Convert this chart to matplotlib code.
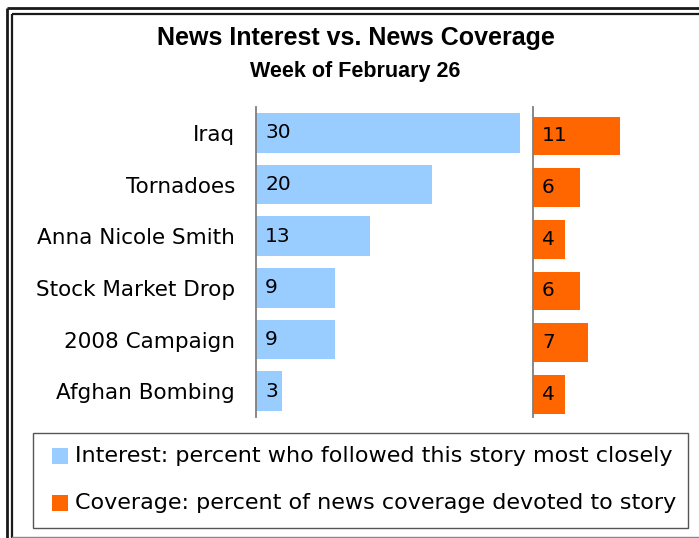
import matplotlib

matplotlib.use("Agg")
import matplotlib.pyplot as plt
from matplotlib.lines import Line2D
from matplotlib.patches import Rectangle

# data
stories = ["Iraq", "Tornadoes", "Anna Nicole Smith", "Stock Market Drop",
           "2008 Campaign", "Afghan Bombing"]
interest = [30, 20, 13, 9, 9, 3]
coverage = [11, 6, 4, 6, 7, 4]
legend_labels = ["Interest: percent who followed this story most closely",
                 "Coverage: percent of news coverage devoted to story"]
title = "News Interest vs. News Coverage"
subtitle = "Week of February 26"

BLUE = "#99CCFF"
ORANGE = "#FF6600"
W, H = 699, 538


def fx(x):
    return x / W


def fy(y):
    return 1 - y / H


fig = plt.figure(figsize=(W / 100, H / 100), dpi=100)
fig.patch.set_facecolor("white")

# frame (double line at top/left)
for x0, y0, lw, c in [(7, 8, 2.0, "#1a1a1a"), (12, 14, 1.6, "#1a1a1a")]:
    fig.add_artist(Line2D([fx(x0), fx(x0)], [fy(y0), 0], lw=lw, color=c,
                          transform=fig.transFigure, solid_capstyle="butt"))
    fig.add_artist(Line2D([fx(x0), 1], [fy(y0), fy(y0)], lw=lw, color=c,
                          transform=fig.transFigure, solid_capstyle="butt"))
fig.add_artist(Line2D([fx(12), 1], [fy(536.5), fy(536.5)], lw=1.0,
                      color="#888888", transform=fig.transFigure))

fig.text(fx(356), fy(38), title, ha="center", va="center",
         fontsize=18, fontweight="bold", family="Liberation Sans")
fig.text(fx(355), fy(72), subtitle, ha="center", va="center",
         fontsize=15.5, fontweight="bold", family="Liberation Sans")

ypos = list(range(len(stories)))
top, bottom = 107, 417
axL = fig.add_axes([fx(256), fy(bottom), (520 - 256) / W, (bottom - top) / H])
axR = fig.add_axes([fx(533), fy(bottom), (620 - 533) / W, (bottom - top) / H])

axL.barh(ypos, interest, height=0.77, color=BLUE)
axR.barh([y + 0.06 for y in ypos], coverage, height=0.75, color=ORANGE)
axL.set_xlim(0, 30)
axR.set_xlim(0, 11)

for ax, vals, off in [(axL, interest, 0.0), (axR, coverage, 0.06)]:
    ax.set_ylim(len(stories) - 0.5, -0.5)
    for s in ["top", "right", "bottom"]:
        ax.spines[s].set_visible(False)
    ax.spines["left"].set_color("#7f7f7f")
    ax.spines["left"].set_linewidth(1.3)
    ax.set_xticks([])
    ax.set_facecolor("none")
    for y, v in zip(ypos, vals):
        ax.annotate(str(v), (0, y + off), xytext=(6.5, 0),
                    textcoords="offset points", va="center", ha="left",
                    fontsize=14.5, family="DejaVu Sans")

axL.set_yticks(ypos)
axL.set_yticklabels(stories, fontsize=15.5, family="DejaVu Sans")
axL.tick_params(axis="y", length=0, pad=15)
axR.set_yticks([])

# legend box
fig.add_artist(Rectangle((fx(33), fy(528)), (688 - 33) / W, (528 - 433) / H,
                         transform=fig.transFigure, fill=False,
                         edgecolor="#555555", lw=1.0))
for (yc, col), lab in zip([(456, BLUE), (503, ORANGE)], legend_labels):
    fig.add_artist(Rectangle((fx(52), fy(yc + 8)), 16 / W, 16 / H,
                             transform=fig.transFigure, color=col, lw=0))
    fig.text(fx(75), fy(yc), lab, ha="left", va="center", fontsize=16.0,
             family="DejaVu Sans")

fig.savefig("out.png", dpi=100)
